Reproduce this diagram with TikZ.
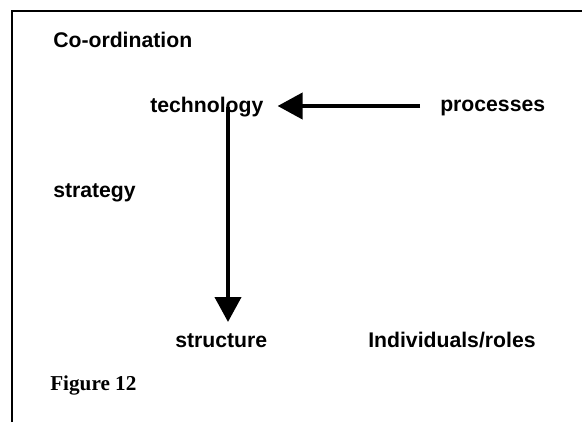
\documentclass[tikz,border=0pt]{standalone}
\usepackage{fontspec}
\setmainfont{Liberation Sans}
\newfontfamily\figserif{Liberation Serif}
\usetikzlibrary{arrows.meta}
\tikzset{
  lbl/.style={anchor=base west, inner sep=0pt, font=\fontsize{15.9}{19}\selectfont\bfseries},
  figlbl/.style={anchor=base west, inner sep=0pt, font=\figserif\fontsize{15.9}{19}\selectfont\bfseries},
  arr/.style={line width=3.1pt, -{Triangle[length=18.75pt,width=19.5pt]}},
  frame/.style={line width=1.5pt}
}
\begin{document}
\begin{tikzpicture}[x=0.75pt,y=-0.75pt]
\useasboundingbox (0,0) rectangle (582,422);
\coordinate (fb) at (12,422);
\coordinate (fc) at (12,11);
\coordinate (fr) at (582,11);
\draw[frame] (fb) -- (fc) -- (fr);
\node[lbl] (coord) at (53,47) {Co-ordination};
\node[lbl] (tech) at (150,112) {technology};
\node[lbl] (proc) at (440,111) {processes};
\node[lbl] (strat) at (53,197) {strategy};
\node[lbl] (struct) at (175,347) {structure};
\node[lbl] (indiv) at (368,347) {Individuals/roles};
\node[figlbl] (fig) at (50,390) {Figure 12};
\draw[arr] ([shift={(-20,-5)}]proc.base west) -- ([shift={(14,-6)}]tech.base east);
\draw[arr] ([shift={(78,-5)}]tech.base west) -- ([shift={(53,-25)}]struct.base west);
\end{tikzpicture}
\end{document}
